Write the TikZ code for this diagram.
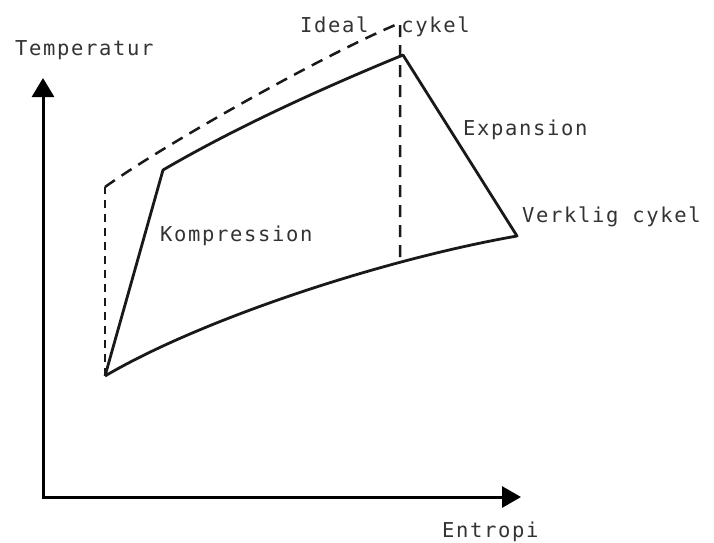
\documentclass[tikz,border=0pt]{standalone}
\usepackage{fontspec}
\newfontfamily\labelfont{DejaVu Sans Mono}[LetterSpace=8]
\usetikzlibrary{arrows.meta}

\begin{document}
\begin{tikzpicture}[x=1pt,y=-1pt,
    axis/.style={line width=3pt,line join=miter,
      {Triangle[width=22pt,length=19pt]}-{Triangle[width=21pt,length=19pt]}},
    real/.style={line width=2.8pt,line join=round,draw=black!90},
    ideal/.style={line width=2.5pt,draw=black!90,dash pattern=on 12pt off 8pt},
    lbl/.style={font=\labelfont\fontsize{20.5}{24}\selectfont,anchor=base west,
      inner sep=0pt,text=black!80}]
    \useasboundingbox (0,0) rectangle (714,542);

    % Axes
    \coordinate (origin) at (43,497);
    \coordinate (tTip) at (43,78);
    \coordinate (sTip) at (521,497);
    \draw[axis] (tTip) -- (origin) -- (sTip);
    \node[lbl] (tLbl) at (15,55) {Temperatur};
    \node[lbl] (sLbl) at (442,537) {Entropi};

    % Real cycle
    \coordinate (lowLeft) at (105,376);
    \coordinate (kompTop) at (163,170);
    \coordinate (peak) at (403,55);
    \coordinate (expEnd) at (517,236);
    \draw[real] (lowLeft) -- (kompTop)
        .. controls (240,125) and (330,85) .. (peak)
        -- (expEnd)
        .. controls (380,260) and (200,320) .. (lowLeft);

    % Ideal cycle
    \coordinate (idealCorner) at (105,187);
    \coordinate (idealTop) at (400,23);
    \coordinate (idealFoot) at (400,259);
    \draw[ideal, line width=2.8pt, dash pattern=on 8pt off 6pt] (lowLeft) -- (idealCorner);
    \draw[ideal] (idealCorner) .. controls (165,144) and (327,53) .. (idealTop)
        -- (idealFoot);

    % Labels
    \node[lbl] (idealLbl) at (300,32) {Ideal\hspace{33pt}cykel};
    \node[lbl] (expLbl) at (463,135) {Expansion};
    \node[lbl] (kompLbl) at (160,241) {Kompression};
    \node[lbl] (realLbl) at (522,222) {Verklig cykel};
\end{tikzpicture}
\end{document}
